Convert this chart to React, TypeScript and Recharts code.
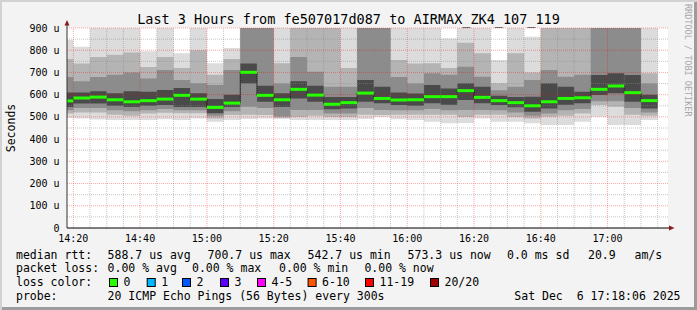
import React from 'react';
import {
  ComposedChart,
  Area,
  Line,
  XAxis,
  YAxis,
  CartesianGrid,
  ReferenceLine,
  ReferenceDot,
} from 'recharts';

const FONT = '"DejaVu Sans Mono", "Liberation Mono", monospace';

// ---- data ----
const rangeStart = '14:18:06';
const rangeEnd = '17:18:06';
const dataEnd = '17:15';

const intervalStarts = [
  '14:18:06', '14:20', '14:25', '14:30', '14:35', '14:40', '14:45', '14:50', '14:55',
  '15:00', '15:05', '15:10', '15:15', '15:20', '15:25', '15:30', '15:35', '15:40',
  '15:45', '15:50', '15:55', '16:00', '16:05', '16:10', '16:15', '16:20', '16:25',
  '16:30', '16:35', '16:40', '16:45', '16:50', '16:55', '17:00', '17:05', '17:10',
];

// median rtt (microseconds)
const medianRtt = [
  572, 585, 589, 577, 568, 573, 580, 597, 580, 542.7, 562, 700.7, 597, 577, 624, 598, 557, 564,
  607, 583, 576, 577, 591, 591, 618, 588, 573, 564, 550, 568, 583, 586, 624, 639, 609, 573.3,
];

// smoke bands (outer -> inner), upper edges
const smokeMax = [
  846, 816, 900, 900, 900, 795, 900, 786, 900, 741, 810, 900, 900, 900, 900, 900, 900, 900,
  900, 900, 900, 900, 900, 853, 900, 900, 756, 900, 861, 900, 900, 900, 900, 900, 900, 900,
];
const smokeUpper2 = [
  760, 740, 770, 780, 790, 725, 770, 720, 800, 690, 760, 900, 900, 741, 900, 900, 900, 720,
  900, 900, 756, 740, 741, 720, 834, 786, 651, 786, 700, 900, 900, 900, 900, 900, 900, 696,
];
const smokeUpper3 = [
  680, 660, 680, 690, 700, 673, 711, 666, 651, 643, 711, 900, 900, 650, 770, 703, 636, 636,
  900, 900, 680, 650, 696, 690, 726, 681, 620, 636, 666, 711, 681, 690, 900, 900, 900, 650,
];
const smokeUpper4 = [
  610, 610, 615, 606, 615, 613, 621, 630, 606, 580, 600, 740, 640, 606, 660, 640, 590, 590,
  666, 636, 610, 605, 643, 628, 651, 636, 595, 590, 591, 651, 636, 613, 688, 696, 688, 600,
];
// lower edges
const smokeLower4 = [
  545, 560, 560, 550, 545, 550, 553, 545, 545, 516, 545, 650, 568, 545, 583, 568, 534, 538,
  568, 561, 553, 550, 561, 555, 576, 561, 553, 543, 523, 538, 555, 561, 598, 606, 568, 538,
];
const smokeLower3 = [
  530, 540, 540, 530, 525, 530, 535, 530, 530, 505, 525, 546, 540, 502, 531, 531, 515, 515,
  540, 531, 530, 530, 535, 530, 531, 531, 530, 520, 505, 515, 530, 535, 570, 570, 540, 520,
];
const smokeLower2 = [
  515, 520, 520, 510, 505, 515, 519, 516, 516, 493, 508, 510, 508, 496, 500, 505, 500, 500,
  510, 508, 510, 510, 510, 510, 500, 510, 510, 500, 493, 501, 505, 515, 553, 546, 510, 505,
];
const smokeMin = [
  495, 493, 488, 486, 486, 486, 489, 486, 493, 478, 486, 490, 493, 490, 486, 486, 486, 486,
  490, 500, 489, 486, 478, 471, 472, 493, 478, 478, 471, 463, 463, 478, 501, 463, 463, 486,
];

const xTickLabels = ['14:20', '14:40', '15:00', '15:20', '15:40', '16:00', '16:20', '16:40', '17:00'];
const yTicks = [0, 100, 200, 300, 400, 500, 600, 700, 800, 900];

const lossLabels = ['0', '1', '2', '3', '4-5', '6-10', '11-19', '20/20'];
const lossColors = ['#26ff00', '#00b8ff', '#0059ff', '#5e00ff', '#ff00ff', '#ff5500', '#ff0000', '#a10000'];

// ---- helpers ----
const toMin = (s: string) => {
  const p = s.split(':').map(Number);
  return (p[0] - 14) * 60 + p[1] + (p[2] || 0) / 60;
};
const fmtTime = (m: number) => {
  const h = 14 + Math.floor(m / 60);
  const mm = Math.round(m % 60);
  return `${h}:${mm < 10 ? '0' + mm : mm}`;
};

const domainStart = toMin(rangeStart);
const domainEnd = toMin(rangeEnd);
const xTicks = xTickLabels.map(toMin);
const endMin = toMin(dataEnd);

const rows = intervalStarts.map((s, i) => ({
  t: toMin(s),
  outer: [smokeMin[i], smokeMax[i]],
  band2: [smokeLower2[i], smokeUpper2[i]],
  band3: [smokeLower3[i], smokeUpper3[i]],
  band4: [smokeLower4[i], smokeUpper4[i]],
  median: medianRtt[i],
}));
rows.push({ ...rows[rows.length - 1], t: endMin });

const intervalEnds = rows.slice(1).map((r) => r.t);
const minorX = [...intervalStarts.slice(1).map(toMin), endMin].filter(
  (m) => !xTicks.some((t) => Math.abs(t - m) < 0.01)
);
const minorY = yTicks.slice(1).map((v) => v - 50);
const majorY = yTicks.slice(1);

const UpArrow = (props: any) => {
  const { cx, cy } = props;
  return (
    <g>
      <line x1={cx} y1={cy} x2={cx} y2={cy - 3} stroke="#333" strokeWidth={1} />
      <polygon points={`${cx - 2.5},${cy - 2.5} ${cx + 2.5},${cy - 2.5} ${cx},${cy - 8}`} fill="#8b1a1a" />
    </g>
  );
};
const RightArrow = (props: any) => {
  const { cx, cy } = props;
  return (
    <g>
      <line x1={cx} y1={cy} x2={cx + 2} y2={cy} stroke="#000" strokeWidth={1} />
      <polygon points={`${cx + 1},${cy - 2.5} ${cx + 1},${cy + 2.5} ${cx + 6.5},${cy}`} fill="#8b1a1a" />
    </g>
  );
};

const legendRow1 = [
  { x: 16, s: 'median rtt:' },
  { x: 107.6, s: '588.7 us avg' },
  { x: 207.6, s: '700.7 us max' },
  { x: 307.6, s: '542.7 us min' },
  { x: 407.6, s: '573.3 us now' },
  { x: 507, s: '0.0 ms sd' },
  { x: 588, s: '20.9' },
  { x: 634.5, s: 'am/s' },
];
const legendRow2 = [
  { x: 16, s: 'packet loss:' },
  { x: 107.6, s: '0.00 % avg' },
  { x: 192, s: '0.00 % max' },
  { x: 279, s: '0.00 % min' },
  { x: 364.4, s: '0.00 % now' },
];
const lossBoxX = [109, 146.7, 182, 220, 257, 307.6, 365, 430];

export default function App() {
  const legendFont = { fontFamily: FONT, fontSize: 11.5, fill: '#000' } as any;
  return (
    <div
      style={{
        position: 'absolute',
        left: 0,
        top: 0,
        width: 697,
        height: 310,
        background: '#f3f3f3',
        boxShadow: 'inset 2px 2px 0 #d2d2d2, inset -3px -3px 0 #9c9c9c',
        overflow: 'hidden',
      }}
    >
      <div style={{ position: 'absolute', left: 0, top: 0, width: 697, height: 310 }}>
        <ComposedChart
          width={697}
          height={310}
          data={rows}
          margin={{ top: 28, right: 29, bottom: 62, left: 7 }}
        >
          <CartesianGrid horizontal={false} vertical={false} fill="#ffffff" />
          <XAxis
            dataKey="t"
            type="number"
            domain={[domainStart, domainEnd]}
            allowDataOverflow
            ticks={xTicks}
            tickFormatter={fmtTime}
            height={20}
            tickSize={0}
            tickMargin={7}
            tickLine={false}
            axisLine={{ stroke: '#000' }}
            tick={{ fontSize: 10, fill: '#000', fontFamily: FONT }}
            interval={0}
          />
          <YAxis
            type="number"
            domain={[0, 900]}
            allowDataOverflow
            ticks={yTicks}
            width={60}
            tickSize={0}
            tickMargin={7.5}
            tickLine={false}
            axisLine={{ stroke: '#333' }}
            tickFormatter={(v: number) => (v === 0 ? '0' : `${v} u`)}
            tick={{ fontSize: 10, fill: '#000', fontFamily: FONT }}
            interval={0}
          />
          <Area dataKey="outer" type="stepAfter" fill="#dcdcdc" fillOpacity={1} stroke="none" strokeWidth={0} dot={false} activeDot={false} isAnimationActive={false} />
          <Area dataKey="band2" type="stepAfter" fill="#b4b4b4" fillOpacity={1} stroke="none" strokeWidth={0} dot={false} activeDot={false} isAnimationActive={false} />
          <Area dataKey="band3" type="stepAfter" fill="#8c8c8c" fillOpacity={1} stroke="none" strokeWidth={0} dot={false} activeDot={false} isAnimationActive={false} />
          <Area dataKey="band4" type="stepAfter" fill="#4a4a4a" fillOpacity={1} stroke="none" strokeWidth={0} dot={false} activeDot={false} isAnimationActive={false} />
          <Line dataKey="median" type="stepAfter" stroke="#1a1a1a" strokeWidth={1} dot={false} activeDot={false} isAnimationActive={false} />
          {minorY.map((v) => (
            <ReferenceLine key={'my' + v} y={v} stroke="#8c8c8c" strokeOpacity={0.5} strokeDasharray="1 1" />
          ))}
          {minorX.map((v) => (
            <ReferenceLine key={'mx' + v} x={v} stroke="#8c8c8c" strokeOpacity={0.5} strokeDasharray="1 1" />
          ))}
          {majorY.map((v) => (
            <ReferenceLine key={'My' + v} y={v} stroke="#ff0000" strokeOpacity={0.35} strokeDasharray="1 1" />
          ))}
          {xTicks.map((v) => (
            <ReferenceLine key={'Mx' + v} x={v} stroke="#ff0000" strokeOpacity={0.35} strokeDasharray="1 1" />
          ))}
          {rows.slice(0, -1).map((r, i) => (
            <ReferenceLine
              key={'med' + i}
              segment={[
                { x: r.t, y: r.median },
                { x: intervalEnds[i], y: r.median },
              ]}
              stroke={lossColors[0]}
              strokeWidth={3}
            />
          ))}
          <ReferenceDot x={domainStart} y={900} r={0} ifOverflow="visible" shape={UpArrow} />
          <ReferenceDot x={domainEnd} y={0} r={0} ifOverflow="visible" shape={RightArrow} />
        </ComposedChart>
      </div>
      <svg width={697} height={310} style={{ position: 'absolute', left: 0, top: 0 }}>
        <text x={348.5} y={24} textAnchor="middle" fontFamily={FONT} fontSize={13.5} fill="#000">
          Last 3 Hours from fe507017d087 to AIRMAX_ZK4_107_119
        </text>
        <text
          x={15}
          y={128}
          textAnchor="middle"
          transform="rotate(-90 15 128)"
          fontFamily={FONT}
          fontSize={11.5}
          fill="#000"
        >
          Seconds
        </text>
        <text
          x={684.5}
          y={4}
          transform="rotate(90 684.5 4)"
          fontFamily={FONT}
          fontSize={8.5}
          fill="#a8a8a8"
        >
          RRDTOOL / TOBI OETIKER
        </text>
        {legendRow1.map((it, i) => (
          <text key={'r1' + i} x={it.x} y={258.5} {...legendFont}>
            {it.s}
          </text>
        ))}
        {legendRow2.map((it, i) => (
          <text key={'r2' + i} x={it.x} y={272} {...legendFont}>
            {it.s}
          </text>
        ))}
        <text x={16} y={286} {...legendFont}>loss color:</text>
        {lossLabels.map((l, i) => (
          <g key={'lc' + i}>
            <rect x={lossBoxX[i] + 0.5} y={278.5} width={8} height={8} fill={lossColors[i]} stroke="#000" strokeWidth={1} />
            <text x={lossBoxX[i] + 14.5} y={286} {...legendFont}>
              {l}
            </text>
          </g>
        ))}
        <text x={16} y={299.5} {...legendFont}>probe:</text>
        <text x={107.6} y={299.5} {...legendFont}>20 ICMP Echo Pings (56 Bytes) every 300s</text>
        <text x={680.5} y={299.5} textAnchor="end" {...legendFont} style={{ whiteSpace: 'pre' }}>
          {'Sat Dec  6 17:18:06 2025'}
        </text>
      </svg>
    </div>
  );
}
